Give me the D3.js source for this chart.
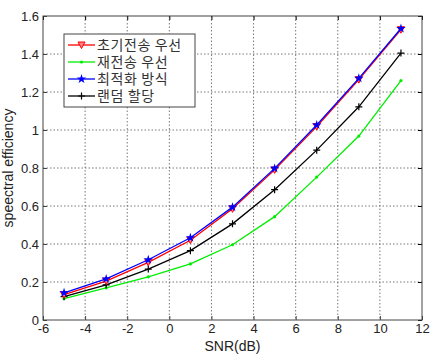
<!DOCTYPE html>
<html>
<head>
<meta charset="utf-8">
<script src="https://cdn.jsdelivr.net/npm/d3@7"></script>
<style>
  body { margin: 0; background: #fff; }
  svg { font-family: "Liberation Sans", Arial, sans-serif; }
  .tick text { font-size: 13px; fill: #222; }
</style>
</head>
<body>
<div id="chart"></div>
<script>
var snr = [-5, -3, -1, 1, 3, 5, 7, 9, 11];
var initialFirst = [0.133, 0.205, 0.303, 0.42, 0.585, 0.79, 1.018, 1.265, 1.528];
var retransFirst = [0.113, 0.169, 0.227, 0.295, 0.396, 0.544, 0.752, 0.968, 1.26];
var optimal = [0.143, 0.216, 0.317, 0.433, 0.594, 0.798, 1.026, 1.272, 1.534];
var randomAlloc = [0.123, 0.185, 0.268, 0.365, 0.506, 0.686, 0.894, 1.122, 1.405];
var xTicks = [-6, -4, -2, 0, 2, 4, 6, 8, 10, 12];
var yTicks = [0, 0.2, 0.4, 0.6, 0.8, 1, 1.2, 1.4, 1.6];

var series = [
  {name: '초기전송 우선', values: initialFirst, color: '#ff0000', marker: 'tri'},
  {name: '재전송 우선', values: retransFirst, color: '#00ee00', marker: 'dot'},
  {name: '최적화 방식', values: optimal, color: '#0000ff', marker: 'star'},
  {name: '랜덤 할당', values: randomAlloc, color: '#000000', marker: 'plus'}
];

var W = 430, H = 354;
var margin = {top: 16, right: 8, bottom: 34, left: 43};
var width = W - margin.left - margin.right;
var height = H - margin.top - margin.bottom;

var svg = d3.select('#chart').append('svg')
  .attr('width', W).attr('height', H);
var g = svg.append('g')
  .attr('transform', 'translate(' + margin.left + ',' + margin.top + ')');

var x = d3.scaleLinear().domain([-6, 12]).range([0, width]);
var y = d3.scaleLinear().domain([0, 1.6]).range([height, 0]);

// grid
g.append('g').selectAll('line')
  .data(xTicks.slice(1, -1)).enter().append('line')
  .attr('x1', d => x(d)).attr('x2', d => x(d))
  .attr('y1', 0).attr('y2', height)
  .attr('stroke', '#555').attr('stroke-width', 0.8)
  .attr('stroke-dasharray', '1.5,2');
g.append('g').selectAll('line')
  .data(yTicks.slice(1, -1)).enter().append('line')
  .attr('y1', d => y(d)).attr('y2', d => y(d))
  .attr('x1', 0).attr('x2', width)
  .attr('stroke', '#555').attr('stroke-width', 0.8)
  .attr('stroke-dasharray', '1.5,2');

// axes (plain hyphen minus like the original)
var fmtX = d => String(d);
var fmtY = d => (d === 0 || d === 1) ? String(d) : d.toFixed(1);
var xAxis = d3.axisBottom(x).tickValues(xTicks).tickSize(-4).tickPadding(4)
  .tickFormat(fmtX);
var yAxis = d3.axisLeft(y).tickValues(yTicks).tickSize(-4).tickPadding(4)
  .tickFormat(fmtY);
g.append('g').attr('transform', 'translate(0,' + height + ')').call(xAxis)
  .call(a => a.select('.domain').remove());
g.append('g').call(yAxis).call(a => a.select('.domain').remove());
g.selectAll('.tick line').attr('stroke', '#444');
// top/right ticks
g.append('g').call(d3.axisTop(x).tickValues(xTicks).tickSize(-4).tickFormat(''))
  .call(a => a.select('.domain').remove());
g.append('g').attr('transform', 'translate(' + width + ',0)')
  .call(d3.axisRight(y).tickValues(yTicks).tickSize(-4).tickFormat(''))
  .call(a => a.select('.domain').remove());

g.append('rect').attr('width', width).attr('height', height)
  .attr('fill', 'none').attr('stroke', '#444').attr('stroke-width', 1);

function drawMarker(sel, type, color) {
  if (type === 'tri') {
    sel.append('path')
      .attr('d', 'M-3.5,-3L3.5,-3L0,3.5Z')
      .attr('fill', '#ff8080').attr('stroke', color).attr('stroke-width', 1);
  } else if (type === 'dot') {
    sel.append('circle').attr('r', 1.6).attr('fill', color);
  } else if (type === 'star') {
    sel.append('path').attr('d', d3.symbol().type(d3.symbolStar).size(28)())
      .attr('fill', color);
  } else if (type === 'plus') {
    sel.append('path').attr('d', 'M-3.5,0H3.5M0,-3.5V3.5')
      .attr('stroke', color).attr('stroke-width', 1.2);
  }
}

var line = d3.line().x((d, i) => x(snr[i])).y(d => y(d));

// draw order: green, black, red, blue
[1, 3, 0, 2].forEach(function(k) {
  var s = series[k];
  g.append('path').datum(s.values)
    .attr('d', line).attr('fill', 'none')
    .attr('stroke', s.color).attr('stroke-width', 1.3);
  g.append('g').selectAll('g').data(s.values).enter().append('g')
    .attr('transform', (d, i) => 'translate(' + x(snr[i]) + ',' + y(d) + ')')
    .each(function() { drawMarker(d3.select(this), s.marker, s.color); });
});

// legend
var leg = g.append('g').attr('transform', 'translate(' + (64 - margin.left) + ',' + (34 - margin.top) + ')');
leg.append('rect').attr('width', 131).attr('height', 73)
  .attr('fill', '#fff').attr('stroke', '#444').attr('stroke-width', 1);
series.forEach(function(s, i) {
  var ly = 11 + i * 17;
  var row = leg.append('g').attr('transform', 'translate(0,' + ly + ')');
  row.append('line').attr('x1', 4).attr('x2', 31).attr('y1', 0).attr('y2', 0)
    .attr('stroke', s.color).attr('stroke-width', 1.3);
  drawMarker(row.append('g').attr('transform', 'translate(17.5,0)'), s.marker, s.color);
  row.append('text').attr('x', 33).attr('y', 0).attr('dy', '0.35em')
    .attr('font-family', '"Noto Sans CJK KR", sans-serif')
    .attr('font-size', 14).attr('letter-spacing', 0.6)
    .attr('fill', '#333').text(s.name);
});

// axis labels
svg.append('text')
  .attr('x', margin.left + x(3)).attr('y', 351)
  .attr('text-anchor', 'middle').attr('font-size', 14).attr('fill', '#222')
  .text('SNR(dB)');
svg.append('text')
  .attr('transform', 'translate(13,' + (margin.top + height / 2) + ') rotate(-90)')
  .attr('text-anchor', 'middle').attr('font-size', 14).attr('fill', '#222')
  .text('speectral efficiency');
</script>
</body>
</html>
